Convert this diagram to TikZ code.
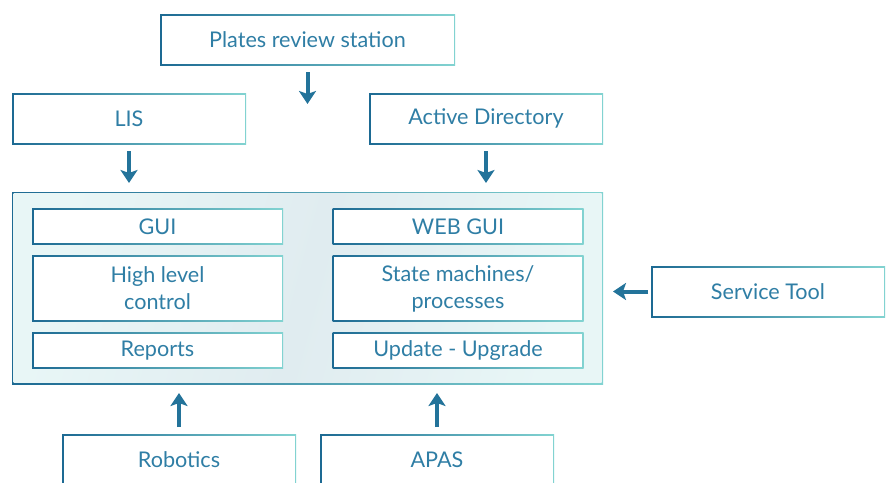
\documentclass[tikz,border=0pt]{standalone}
\usepackage{fontspec}
\setmainfont{Lato}
\usetikzlibrary{arrows.meta}
\definecolor{bordDark}{HTML}{1D6A93}
\definecolor{bordLight}{HTML}{82D3D1}
\definecolor{txtBlue}{HTML}{2F7EA5}
\definecolor{arrBlue}{HTML}{23739A}
\definecolor{coreA}{HTML}{E8F6F6}
\definecolor{coreB}{HTML}{E0ECF0}
\tikzstyle{box} = [rectangle, left color=bordDark, right color=bordLight, text=txtBlue, align=center, inner sep=0pt, outer sep=0pt, font=\fontsize{10.8}{13.5}\selectfont, path picture={\fill[white] ([shift={(0.75pt,0.75pt)}]path picture bounding box.south west) rectangle ([shift={(-0.75pt,-0.75pt)}]path picture bounding box.north east);}]
\tikzstyle{ext} = [box, minimum width=117pt, minimum height=25.5pt]
\tikzstyle{part} = [box, minimum width=125.5pt]
\tikzstyle{core} = [rectangle, left color=bordDark, right color=bordLight, inner sep=0pt, outer sep=0pt, minimum width=295.5pt, minimum height=96pt, path picture={\shade[left color=coreA, right color=coreA, middle color=coreB, shading angle=75] ([shift={(0.75pt,0.75pt)}]path picture bounding box.south west) rectangle ([shift={(-0.75pt,-0.75pt)}]path picture bounding box.north east);}]
\tikzstyle{arrow} = [line width=2pt, arrBlue, -{Stealth[length=6.5pt, width=8.5pt, inset=1.5pt]}]

\begin{document}
\begin{tikzpicture}[x=0.5pt, y=-0.5pt]
    \useasboundingbox [fill=white] (0,0) rectangle (891,483);
    \node (plates) [ext, minimum width=147.5pt] at (307.5,39.5) {Plates review station};
    \node (lis) [ext] at (129,118.5) {LIS};
    \node (ad) [ext] at (486,118.5) {Active Directory};
    \node (core) [core] at (307.5,288) {};
    \node (gui) [part, minimum height=18pt] at (157.5,226.5) {GUI};
    \node (hlc) [part, minimum height=33pt] at (157.5,288.5) {High level\\control};
    \node (rep) [part, minimum height=18pt] at (157.5,350.5) {Reports};
    \node (web) [part, minimum height=18pt] at (458,226.5) {WEB GUI};
    \node (sm) [part, minimum height=33pt] at (458,288.5) {State machines/\\processes};
    \node (upd) [part, minimum height=18pt] at (458,350.5) {Update - Upgrade};
    \node (service) [ext] at (768,291.5) {Service Tool};
    \node (robotics) [ext] at (179,459.5) {Robotics};
    \node (apas) [ext] at (437,459.5) {APAS};
    \draw [arrow, shorten <=3.5pt, shorten >=44pt] (plates) -- (core);
    \draw [arrow, shorten <=3.5pt, shorten >=4.5pt] (lis) -- (lis |- core.north);
    \draw [arrow, shorten <=3.5pt, shorten >=4.5pt] (ad) -- (ad |- core.north);
    \draw [arrow, shorten <=1.5pt, shorten >=5pt] (service) -- (service -| core.east);
    \draw [arrow, shorten <=3.5pt, shorten >=4.5pt] (robotics) -- (robotics |- core.south);
    \draw [arrow, shorten <=3.5pt, shorten >=4.5pt] (apas) -- (apas |- core.south);
\end{tikzpicture}
\end{document}
